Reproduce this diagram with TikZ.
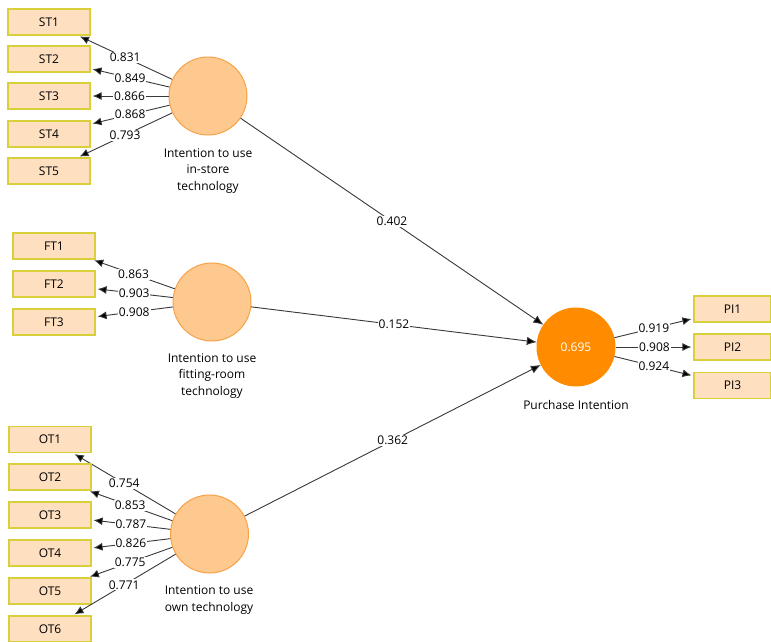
\documentclass[tikz,border=0pt]{standalone}
\usepackage{fontspec}
\setmainfont{Open Sans}
\usetikzlibrary{arrows.meta}

\definecolor{indfill}{HTML}{FEDFC0}
\definecolor{indline}{HTML}{D8D03A}
\definecolor{latfill}{HTML}{FEC98F}
\definecolor{latline}{HTML}{F7A248}
\definecolor{endofill}{HTML}{FF8C00}
\definecolor{pathline}{HTML}{383838}

\tikzset{
  indicator/.style={draw=indline,line width=1.2pt,fill=indfill,minimum width=82pt,minimum height=26pt,inner sep=0pt,font=\fontsize{12}{14}\selectfont},
  latent/.style={circle,draw=latline,line width=1pt,fill=latfill,minimum size=78pt,inner sep=0pt},
  latlabel/.style={align=center,font=\fontsize{12}{16.5}\selectfont},
  loading/.style={draw=pathline,line width=0.9pt,-{Latex[length=9pt,width=8pt,fill=black]},shorten >=2pt},
  path/.style={draw=pathline,line width=0.9pt,-{Latex[length=10pt,width=8.5pt,fill=black]}},
  coef/.style={fill=white,inner sep=1pt,font=\fontsize{12}{14}\selectfont,pos=0.5}
}

\begin{document}
\begin{tikzpicture}[x=1pt,y=-1pt]
\useasboundingbox (0,0) rectangle (771,641);

% constructs
\node[latent] (st) at (208,96) {};
\node[latent] (ft) at (212,302) {};
\node[latent] (ot) at (209.5,534) {};
\node[latent,fill=endofill,draw=endofill,text=white,font=\fontsize{12}{14}\selectfont] (pi) at (576,347) {0.695};

\node[latlabel] (stlab) at (208,171) {Intention to use\\in-store\\technology};
\node[latlabel] (ftlab) at (212,376) {Intention to use\\fitting-room\\technology};
\node[latlabel] (otlab) at (209,600) {Intention to use\\own technology};
\node[latlabel] (pilab) at (576,405) {Purchase Intention};

% outer loadings
\foreach \n/\y/\v in {1/22/0.831,2/59/0.849,3/96/0.866,4/134/0.868,5/171/0.793} {
  \node[indicator] (ST\n) at (49,\y) {ST\n};
  \draw[loading] (st) -- node[coef] {\v} (ST\n);
}
\foreach \n/\y/\v in {1/246/0.863,2/284/0.903,3/322/0.908} {
  \node[indicator] (FT\n) at (54,\y) {FT\n};
  \draw[loading] (ft) -- node[coef] {\v} (FT\n);
}
\foreach \n/\y/\v in {1/439.5/0.754,2/477/0.853,3/515/0.787,4/553/0.826,5/591/0.775,6/629/0.771} {
  \node[indicator] (OT\n) at (50,\y) {OT\n};
  \draw[loading] (ot) -- node[coef] {\v} (OT\n);
}
\foreach \n/\y/\v in {1/309/0.919,2/347/0.908,3/385.5/0.924} {
  \node[indicator,minimum width=77pt] (PI\n) at (732.5,\y) {PI\n};
  \draw[loading] (pi) -- node[coef] {\v} (PI\n);
}

% inner model
\draw[path] (st) -- node[coef] {0.402} (pi);
\draw[path] (ft) -- node[coef] {0.152} (pi);
\draw[path] (ot) -- node[coef] {0.362} (pi);
\end{tikzpicture}
\end{document}
